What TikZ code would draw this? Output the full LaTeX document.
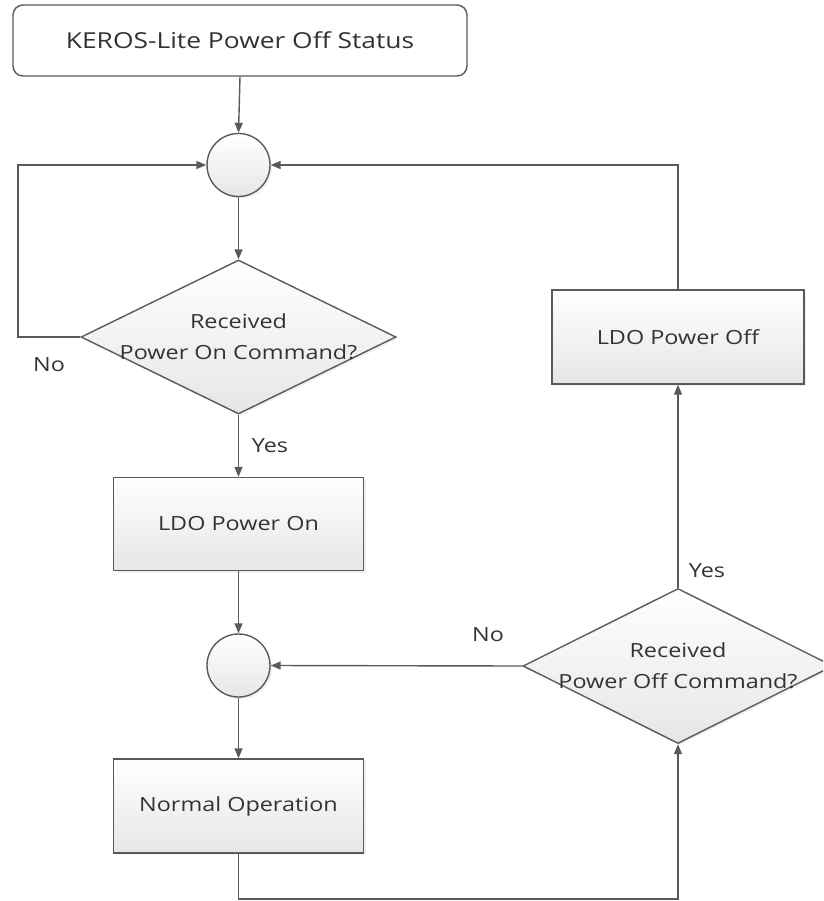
\documentclass[tikz,border=0pt]{standalone}
\usepackage{fontspec}
\setmainfont{Open Sans}[FakeStretch=1.2]
\usetikzlibrary{shapes.geometric,arrows.meta,shadows}
\definecolor{lc}{HTML}{5A5A5A}
\definecolor{tc}{HTML}{333333}
\definecolor{fb}{HTML}{E6E6E6}
\begin{document}
\begin{tikzpicture}[x=1pt,y=-1pt,
  font=\fontsize{19.5}{31}\selectfont, text=tc,
  base/.style={draw=lc, line width=1.4pt, top color=white, bottom color=fb,
     drop shadow={opacity=0.12, shadow xshift=2pt, shadow yshift=-2pt}},
  procbox/.style={base, rectangle, minimum width=250pt, minimum height=93pt, inner sep=0pt},
  joinpt/.style={base, circle, minimum size=63pt, inner sep=0pt},
  decide/.style={base, diamond, inner sep=0pt},
  arr/.style={draw=lc, line width=1.4pt, -{Triangle[length=10pt,width=8pt]}},
  lbl/.style={inner sep=0pt}]
\clip (0,0) rectangle (823,901);
\node[draw=lc, line width=1.4pt, rounded corners=10pt, fill=white,
      minimum width=454pt, minimum height=71pt, font=\fontsize{22}{26}\selectfont] (top) at (240,40.5) {KEROS-Lite Power Off Status};
\node[joinpt] (c1) at (238.5,165) {};
\node[decide, minimum width=315pt, minimum height=154pt,
      label={[align=center, lbl]center:Received\\Power On Command?}] (d1) at (238.5,337) {};
\node[procbox] (on) at (238.5,524) {LDO Power On};
\node[joinpt] (c2) at (238.5,665.5) {};
\node[procbox, minimum height=94pt] (norm) at (238.5,806) {Normal Operation};
\node[decide, minimum width=310pt, minimum height=155pt,
      label={[align=center, lbl]center:Received\\Power Off Command?}] (d2) at (678,666) {};
\node[procbox, minimum width=252pt, minimum height=94pt] (off) at (678,337) {LDO Power Off};

\coordinate (lft) at (18,165);
\coordinate (bot) at (678,899);

\draw[arr] (top.south) -- (c1.north);
\draw[arr] (d1.west) -| (lft) -- (c1.west);
\draw[arr] (off.north) |- (c1.east);
\draw[arr] (c1.south) -- (d1.north);
\draw[arr] (d1.south) -- (on.north);
\draw[arr] (on.south) -- (c2.north);
\draw[arr] (c2.south) -- (norm.north);
\draw[arr] (norm.south) |- (bot) -- (d2.south);
\draw[arr] (d2.west) -- (c2.east);
\draw[arr] (d2.north) -- (off.south);

\node[lbl] (no1) at (49,365) {No};
\node[lbl] (yes1) at (270,446) {Yes};
\node[lbl] (no2) at (488,635) {No};
\node[lbl] (yes2) at (707,571) {Yes};
\end{tikzpicture}
\end{document}
